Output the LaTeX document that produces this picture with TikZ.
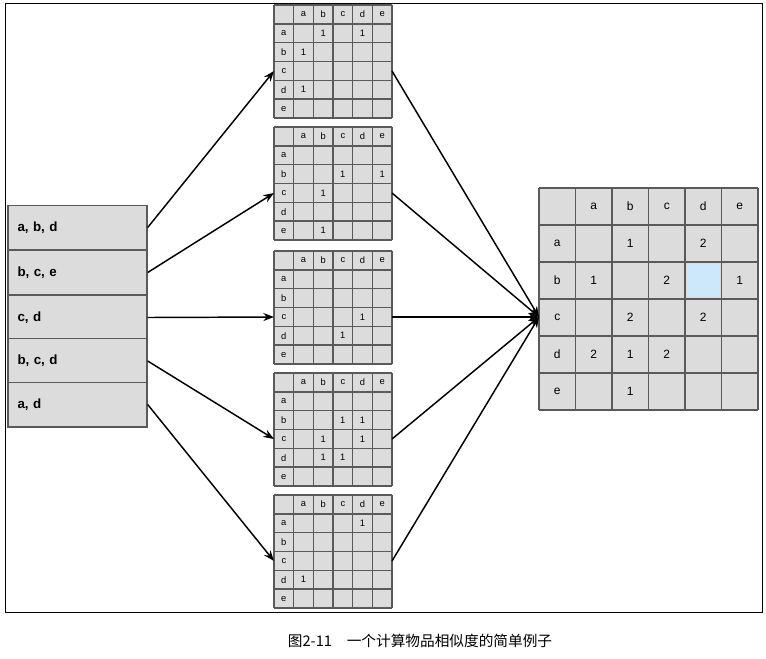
\documentclass[tikz,border=0pt]{standalone}
\usepackage{fontspec}
\setmainfont{Liberation Sans}
\newfontfamily\cjk{Noto Sans CJK SC}
\usetikzlibrary{arrows.meta}
\definecolor{cellgray}{RGB}{220,220,220}
\definecolor{gridgray}{RGB}{90,90,90}
\definecolor{hilite}{RGB}{205,232,250}

% small co-occurrence matrix: name, top y, list of row/col ones
\newcommand\minimat[3]{%
  \begin{scope}[shift={(274,#2)}]
    \fill[cellgray] (0,0) rectangle (118,113);
    \foreach \i in {0,...,6} {
      \draw[gridline] (\i*118/6,0) -- (\i*118/6,113);
      \draw[gridline] (0,\i*113/6) -- (118,\i*113/6);
    }
    \foreach \l [count=\k] in {a,b,c,d,e} {
      \node[smalltext] at (\k*118/6+118/12,113/12) {\l};
      \node[smalltext] at (118/12,\k*113/6+113/12) {\l};
    }
    \foreach \r/\c in {#3}
      \node[smalltext] at (\c*118/6+118/12,\r*113/6+113/12) {1};
  \end{scope}
  \node[matbox] (#1) at (333,#2+56.5) {};
  \coordinate (#1-in) at (274,#2+66);
  \coordinate (#1-out) at (392,#2+66);
}

\begin{document}
\begin{tikzpicture}[x=0.75pt,y=-0.75pt,
  gridline/.style={gridgray,line width=1.1pt},
  smalltext/.style={font=\fontsize{7}{8}\selectfont,inner sep=0pt},
  bigtext/.style={font=\fontsize{9}{10}\selectfont,inner sep=0pt},
  matbox/.style={minimum width=88.5pt,minimum height=84.75pt,inner sep=0pt},
  listcell/.style={draw=gridgray,fill=cellgray,line width=1pt,minimum width=104.25pt,
    minimum height=33.5pt,text width=90pt,align=left,font=\bfseries\fontsize{10}{12}\selectfont},
  link/.style={-{Stealth[length=8pt,width=6pt]},line width=1.1pt}]
\useasboundingbox (0,0) rectangle (766,658);
\draw[line width=0.6pt] (5,3) rectangle (762,612);

% item lists of the users
\node[listcell] (u1) at (77.5,227.5) {a, b, d};
\node[listcell] (u2) at (77.5,272.5) {b, c, e};
\node[listcell] (u3) at (77.5,317.5) {c, d};
\node[listcell] (u4) at (77.5,361) {b, c, d};
\node[listcell] (u5) at (77.5,404.5) {a, d};

\minimat{m1}{5}{1/2,1/4,2/1,4/1}
\minimat{m2}{127}{2/3,2/5,3/2,5/2}
\minimat{m3}{251}{3/4,4/3}
\minimat{m4}{373}{2/3,2/4,3/2,3/4,4/2,4/3}
\minimat{m5}{495}{1/4,4/1}

% summed matrix
\begin{scope}[shift={(539,188)}]
  \fill[cellgray] (0,0) rectangle (219,222);
  \fill[hilite] (4*36.5+2,2*37+2) rectangle (5*36.5-2,3*37-2);
  \foreach \i in {0,...,6} {
    \draw[gridline,line width=0.8pt] (\i*36.5,0) -- (\i*36.5,222);
    \draw[gridline,line width=0.8pt] (0,\i*37) -- (219,\i*37);
  }
  \foreach \l [count=\k] in {a,b,c,d,e} {
    \node[bigtext] at (\k*36.5+18.25,18.5) {\l};
    \node[bigtext] at (18.25,\k*37+18.5) {\l};
  }
  \foreach \r/\c/\v in {1/2/1,1/4/2,2/1/1,2/3/2,2/5/1,3/2/2,3/4/2,4/1/2,4/2/1,4/3/2,5/2/1}
    \node[bigtext] at (\c*36.5+18.25,\r*37+18.5) {\v};
\end{scope}
\coordinate (sum) at (539,317);

\draw[link] (u1.east) -- (m1-in);
\draw[link] (u2.east) -- (m2-in);
\draw[link] (u3.east) -- (m3-in);
\draw[link] (u4.east) -- (m4-in);
\draw[link] (u5.east) -- (m5-in);
\foreach \m in {m1,m2,m3,m4,m5}
  \draw[link] (\m-out) -- (sum);

\node[font=\cjk\fontsize{11}{13}\selectfont] (cap) at (420,641) {图2-11\quad 一个计算物品相似度的简单例子};
\end{tikzpicture}
\end{document}
